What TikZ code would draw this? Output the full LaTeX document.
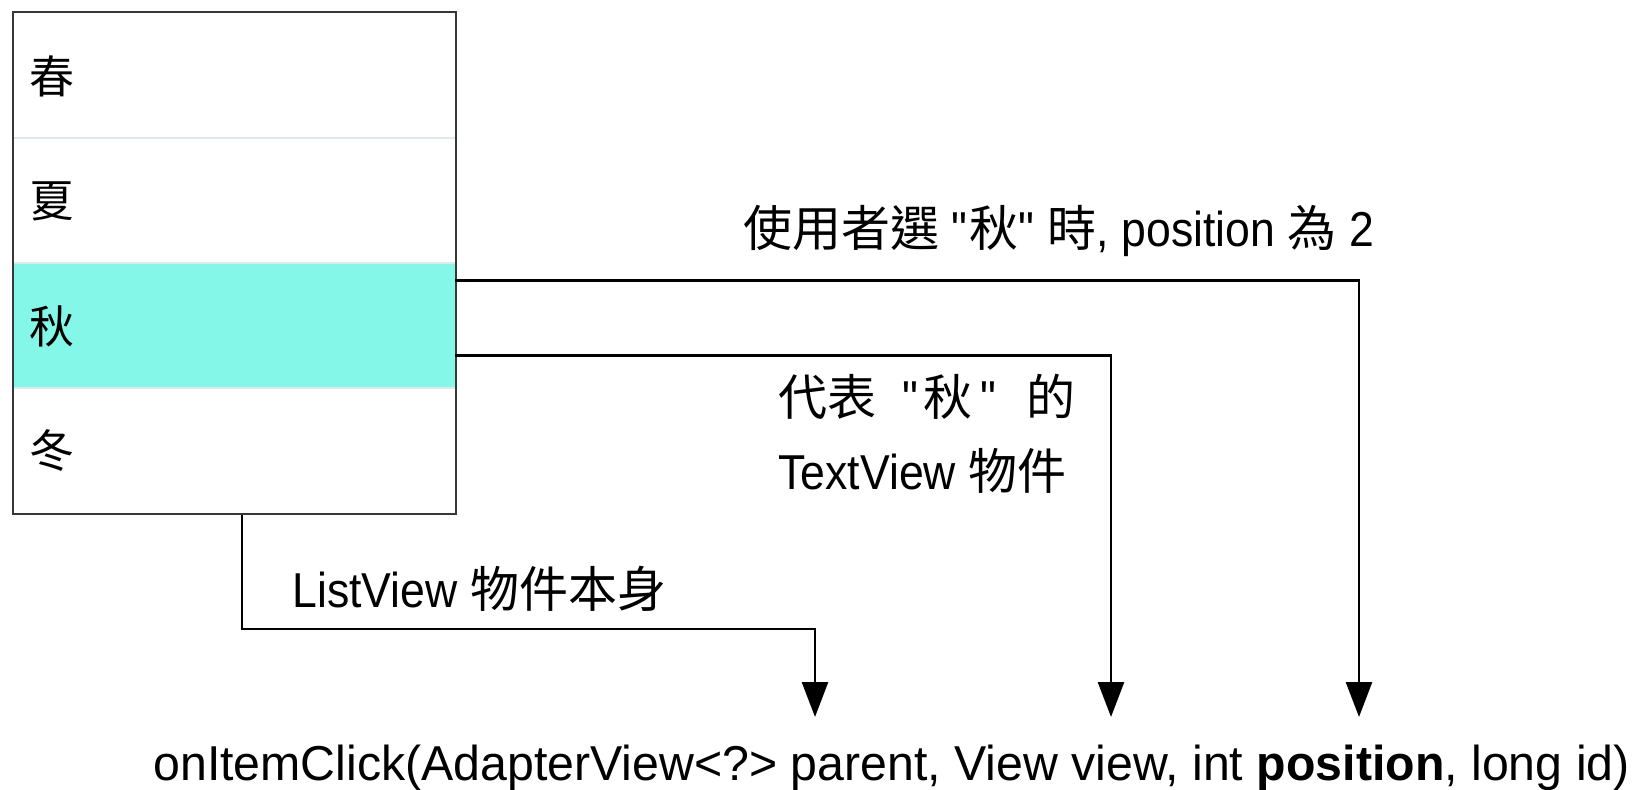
\documentclass[tikz,border=0pt]{standalone}
\usepackage{fontspec}
\setmainfont{Liberation Sans}[FakeStretch=0.91]
\newfontfamily\sigfont{Liberation Sans}[FakeStretch=0.985]
\newfontfamily\cjk{Noto Sans CJK TC}
\newcommand\zh[1]{{\cjk #1}}
\newcommand\qq{\textquotedbl}
\usetikzlibrary{arrows.meta,calc}
\definecolor{hl}{RGB}{132,247,232}
\definecolor{divc}{RGB}{222,233,233}
\definecolor{boxc}{RGB}{55,55,55}
\begin{document}
\begin{tikzpicture}[x=0.5pt,y=-0.5pt,
  conn/.style={line width=1.3pt,-{Triangle[length=17.5pt,width=13pt]}},
  rowbox/.style={minimum width=221.5pt,minimum height=62.7pt,inner sep=0pt,anchor=north west},
  item/.style={font=\cjk\fontsize{22.5}{26}\selectfont,inner sep=0pt,anchor=center},
  txt/.style={font=\fontsize{24.5}{29}\selectfont,inner sep=0pt,anchor=base west},
  divline/.style={draw=divc,line width=1pt}]
\useasboundingbox (0,0) rectangle (1638,790);
% rows
\node[rowbox] (r1) at (11.5,11.5) {};
\node[rowbox] (r2) at (11.5,136.9) {};
\node[rowbox,fill=hl] (r3) at (11.5,262.3) {};
\node[rowbox] (r4) at (11.5,387.7) {};
\draw[divline] (r1.south west) -- (r1.south east);
\draw[divline] (r2.south west) -- (r2.south east);
\draw[divline] (r3.south west) -- (r3.south east);
\node[draw=boxc,line width=1pt,minimum width=221.5pt,minimum height=250.8pt,inner sep=0pt,anchor=north west] (lv) at (11.5,11.5) {};
\node[item] (c1) at (52,76) {春};
\node[item] (c2) at (52,201) {夏};
\node[item] (c3) at (52,326) {秋};
\node[item] (c4) at (52,451) {冬};
% targets
\coordinate (pA) at (815,717);
\coordinate (pV) at (1111,717);
\coordinate (pP) at (1359,717);
\coordinate (bend) at (815,629);
% connectors
\draw[conn] ([yshift=22.5pt]r3.east) -| (pP);
\draw[conn] ([yshift=-15pt]r3.east) -| (pV);
\draw[conn] ([xshift=4pt]lv.south) |- (bend) -- (pA);
% labels
\node[txt] (title) at (743,247) {\zh{使用者選} \qq\zh{秋}\qq\ \zh{時}, position \zh{為} 2};
\node[txt] (tv1) at (778,416) {\zh{代表}\hspace{13pt}\qq\hspace{2pt}\zh{秋}\hspace{4pt}\qq\hspace{14pt}\zh{的}};
\node[txt] (tv2) at (778,490) {TextView \zh{物件}};
\node[txt] (lvt) at (292,608) {ListView \zh{物件本身}};
\node[txt,font=\sigfont\fontsize{24.5}{29}\selectfont] (sig) at (153,780) {onItemClick(AdapterView<?> parent, View view, int \textbf{position}, long id)};
\end{tikzpicture}
\end{document}
